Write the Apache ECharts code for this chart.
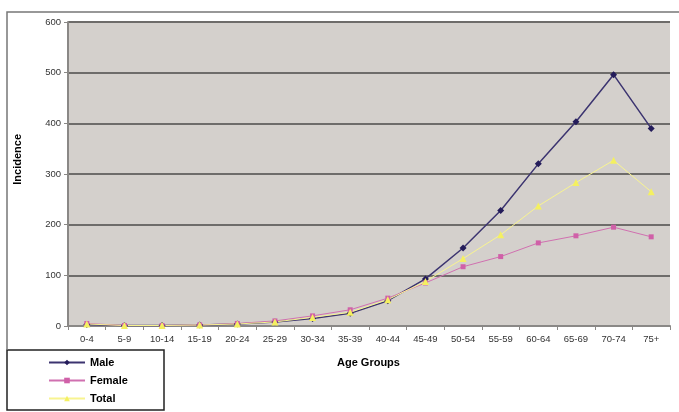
<!DOCTYPE html>
<html lang="en">
<head>
<meta charset="UTF-8">
<title>Incidence by Age Group</title>
<style>
  html, body { margin: 0; padding: 0; background: #fff; }
  #chart { width: 679px; height: 412px; }
</style>
</head>
<body>
<div id="chart"></div>
<script src="https://cdn.jsdelivr.net/npm/echarts@6/dist/echarts.min.js"></script>
<script>
// data
var ageGroups = ['0-4', '5-9', '10-14', '15-19', '20-24', '25-29', '30-34', '35-39',
                 '40-44', '45-49', '50-54', '55-59', '60-64', '65-69', '70-74', '75+'];
var male   = [3, 1, 1, 2, 4, 8, 15, 25, 50, 93, 154, 228, 320, 403, 496, 390];
var female = [5, 1, 1, 2, 5, 10, 20, 32, 55, 85, 117, 137, 164, 178, 195, 176];
var total  = [4, 1, 1, 2, 4, 8, 17, 27, 52, 88, 133, 180, 237, 283, 327, 265];
var yTicks = [0, 100, 200, 300, 400, 500, 600];

var font = 'Liberation Sans, Arial, sans-serif';
var chart = echarts.init(document.getElementById('chart'));

chart.setOption({
  animation: false,
  backgroundColor: '#ffffff',
  grid: {
    left: 68, right: 9, top: 22, bottom: 86,
    show: true, backgroundColor: '#d4d0cc', borderWidth: 0
  },
  xAxis: {
    type: 'category',
    data: ageGroups,
    boundaryGap: true,
    axisLine: { lineStyle: { color: '#8a8886', width: 2 } },
    axisTick: { show: true, length: 4, lineStyle: { color: '#8a8886', width: 1 } },
    axisLabel: { color: '#333', fontSize: 9.5, fontFamily: font, margin: 8, interval: 0 },
    splitLine: { show: false }
  },
  yAxis: {
    type: 'value',
    min: yTicks[0],
    max: yTicks[yTicks.length - 1],
    interval: 100,
    axisLine: { show: true, lineStyle: { color: '#8a8886', width: 2 } },
    axisTick: { show: true, length: 4, lineStyle: { color: '#8a8886', width: 1 } },
    axisLabel: { color: '#333', fontSize: 9.5, fontFamily: font, margin: 7 },
    splitLine: { show: true, lineStyle: { color: '#6e6c6a', width: 2 } }
  },
  legend: {
    orient: 'vertical',
    left: 48, top: 357, padding: 0,
    itemWidth: 36, itemHeight: 7, itemGap: 7,
    textStyle: { color: '#000', fontSize: 11, fontWeight: 'bold', fontFamily: font },
    data: ['Male', 'Female', 'Total']
  },
  graphic: [
    // outer frame (top and left edge)
    { type: 'polyline', silent: true, shape: { points: [[7, 350], [7, 12], [679, 12]] },
      style: { stroke: '#777', lineWidth: 1.5, fill: null } },
    // legend box
    { type: 'rect', silent: true, shape: { x: 7, y: 350, width: 157, height: 60 },
      style: { stroke: '#222', lineWidth: 1.5, fill: '#fff' }, z: -1 },
    // axis titles
    { type: 'text', left: 12, top: 134, rotation: Math.PI / 2,
      style: { text: 'Incidence', fill: '#000', font: 'bold 11px ' + font } },
    { type: 'text', left: 337, top: 357,
      style: { text: 'Age Groups', fill: '#000', font: 'bold 11px ' + font } }
  ],
  series: [
    {
      name: 'Male', type: 'line', data: male,
      symbol: 'diamond', symbolSize: 7, showAllSymbol: true,
      itemStyle: { color: '#241c5a' },
      lineStyle: { color: '#3c3470', width: 1.5 }
    },
    {
      name: 'Female', type: 'line', data: female,
      symbol: 'rect', symbolSize: 5, showAllSymbol: true,
      itemStyle: { color: '#d060a8' },
      lineStyle: { color: '#d070b0', width: 1 }
    },
    {
      name: 'Total', type: 'line', data: total,
      symbol: 'triangle', symbolSize: 7, showAllSymbol: true,
      itemStyle: { color: '#f4f060' },
      lineStyle: { color: '#f8f490', width: 1 }
    }
  ]
});
</script>
</body>
</html>
